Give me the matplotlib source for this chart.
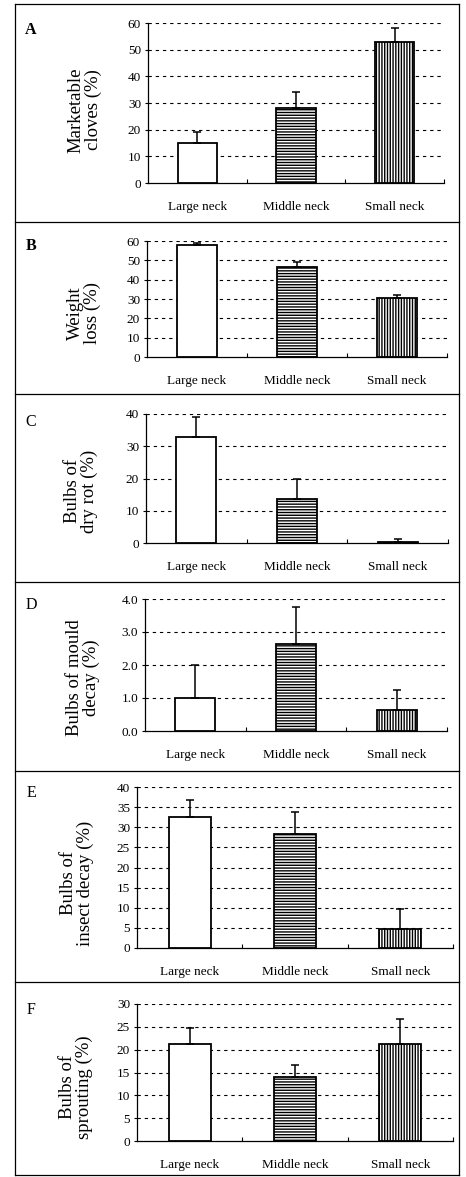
import matplotlib
matplotlib.use("Agg")
import matplotlib.pyplot as plt
import numpy as np

plt.rcParams['font.family'] = ['Liberation Serif', 'DejaVu Serif']
plt.rcParams['hatch.linewidth'] = 1.0

categories = ["Large neck", "Middle neck", "Small neck"]

# Panel data: means and upper error
marketable_means = [15, 28, 53]
marketable_err = [4, 6, 5]
weightloss_means = [58, 46.5, 30.5]
weightloss_err = [1, 2.5, 1.5]
dryrot_means = [33, 13.5, 0.3]
dryrot_err = [6, 6.5, 1.0]
mould_means = [1.0, 2.65, 0.65]
mould_err = [1.0, 1.12, 0.6]
insect_means = [32.5, 28.3, 4.7]
insect_err = [4.3, 5.5, 5.1]
sprout_means = [21.2, 14.0, 21.3]
sprout_err = [3.6, 2.7, 5.5]

letters = ["A", "B", "C", "D", "E", "F"]
ylabels = ["Marketable\ncloves (%)", "Weight\nloss (%)", "Bulbs of\ndry rot (%)",
           "Bulbs of mould\ndecay (%)", "Bulbs of\ninsect decay (%)", "Bulbs of\nsprouting (%)"]
ymax = [60, 60, 40, 4.0, 40, 30]
ystep = [10, 10, 10, 1.0, 5, 5]
means = [marketable_means, weightloss_means, dryrot_means, mould_means, insect_means, sprout_means]
errs = [marketable_err, weightloss_err, dryrot_err, mould_err, insect_err, sprout_err]

W, H = 466, 1177
fig = plt.figure(figsize=(W/100, H/100), dpi=100)

# layout in pixels: left, right, top, bottom, letter_y, ylabel_x, ylabel_y
layout = [
    (148, 444, 23, 183, 30, 85, 110),
    (147, 447, 241, 357, 246, 84, 313),
    (146, 448, 414, 543, 422, 81, 491),
    (145, 447, 599, 731, 605, 83, 678),
    (137, 453, 787, 948, 793, 77, 883),
    (137, 453, 1004, 1141, 1010, 76, 1087),
]

hatches = ['', '------', '||||||']

for i, (l, r, t, b, ly, ylx, yly) in enumerate(layout):
    ax = fig.add_axes([l/W, 1-b/H, (r-l)/W, (b-t)/H])
    x = np.arange(3)
    for j in range(3):
        ax.bar(x[j], means[i][j], width=0.4, color='white', edgecolor='black',
               linewidth=1.3, hatch=hatches[j], zorder=3)
    ax.errorbar(x, means[i], yerr=[np.zeros(3), errs[i]], fmt='none',
                ecolor='black', elinewidth=1.1, capsize=2.8, capthick=1.1, zorder=4)
    ax.set_xlim(-0.5, 2.5)
    ax.set_ylim(0, ymax[i])
    ticks = np.arange(0, ymax[i] + ystep[i]/2, ystep[i])
    ax.set_yticks(ticks)
    if i == 3:
        ax.set_yticklabels([f"{v:.1f}" for v in ticks])
    else:
        ax.set_yticklabels([f"{v:g}" for v in ticks])
    for v in ticks[1:]:
        ax.axhline(v, color='black', linewidth=0.8, linestyle=(0, (3, 3.5)), zorder=1)
    ax.set_xticks(x)
    ax.set_xticklabels(categories)
    ax.set_xticks([0.5, 1.5, 2.5], minor=True)
    ax.tick_params(axis='x', which='major', length=0, pad=13, labelsize=9.5)
    ax.tick_params(axis='x', which='minor', length=3, direction='in', width=0.8)
    ax.tick_params(axis='y', length=2, width=0.8, pad=3, labelsize=9.5)
    for s in ['top', 'right']:
        ax.spines[s].set_visible(False)
    for s in ['left', 'bottom']:
        ax.spines[s].set_linewidth(0.9)
    fig.text(31/W, 1-ly/H, letters[i], fontsize=11.5, ha='center', va='center',
             fontweight='bold' if i < 2 else 'normal')
    fig.text(ylx/W, 1-yly/H, ylabels[i], fontsize=13.5, rotation=90,
             ha='center', va='center', multialignment='center', linespacing=1.0)

# panel frames
frame_y = [4, 222, 394, 582, 771, 982, 1175]
fl, fr = 15, 459
for y in frame_y:
    fig.add_artist(plt.Line2D([fl/W, fr/W], [1-y/H, 1-y/H], color='black', linewidth=0.9))
fig.add_artist(plt.Line2D([fl/W, fl/W], [1-4/H, 1-1175/H], color='black', linewidth=0.9))
fig.add_artist(plt.Line2D([fr/W, fr/W], [1-4/H, 1-1175/H], color='black', linewidth=0.9))

fig.savefig("out.png", dpi=100)
